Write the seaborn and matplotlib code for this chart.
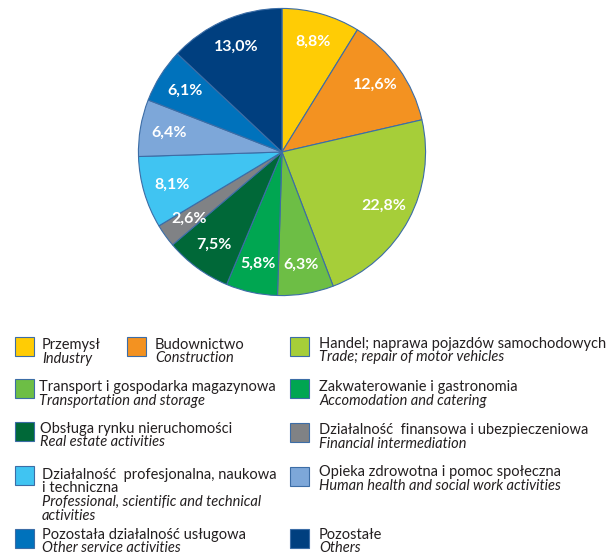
import matplotlib
matplotlib.use("Agg")
import matplotlib.pyplot as plt
from matplotlib.patches import Rectangle
import seaborn as sns

sns.set_style("white")
plt.rcParams['font.family'] = ['Lato', 'DejaVu Sans']

# ---- data ----
categories_pl = [
    "Przemysł",
    "Budownictwo",
    "Handel; naprawa pojazdów samochodowych",
    "Transport i gospodarka magazynowa",
    "Zakwaterowanie i gastronomia",
    "Obsługa rynku nieruchomości",
    "Działalność  finansowa i ubezpieczeniowa",
    "Działalność  profesjonalna, naukowa\ni techniczna",
    "Opieka zdrowotna i pomoc społeczna",
    "Pozostała działalność usługowa",
    "Pozostałe",
]
categories_en = [
    "Industry",
    "Construction",
    "Trade; repair of motor vehicles",
    "Transportation and storage",
    "Accomodation and catering",
    "Real estate activities",
    "Financial intermediation",
    "Professional, scientific and technical\nactivities",
    "Human health and social work activities",
    "Other service activities",
    "Others",
]
values = [8.8, 12.6, 22.8, 6.3, 5.8, 7.5, 2.6, 8.1, 6.4, 6.1, 13.0]
colors = sns.color_palette([
    "#FFCC05", "#F39221", "#A6CE39", "#6DBE45", "#00A651", "#006838",
    "#808285", "#40C4F2", "#7DA7D9", "#0072BC", "#003F7F",
])

W, H = 609, 555
fig = plt.figure(figsize=(W / 100, H / 100), dpi=100)

# ---- pie ----
cx, cy, r = 282, 152, 145
ax = fig.add_axes([(cx - r) / W, (H - cy - r) / H, 2 * r / W, 2 * r / H])
wedges, texts, autotexts = ax.pie(
    values, colors=colors, startangle=90, counterclock=False,
    autopct=lambda p: f"{p:.1f}%".replace(".", ","), pctdistance=0.8,
    wedgeprops=dict(edgecolor="#3C6DA6", linewidth=0.8),
    textprops=dict(color="white", fontsize=11.5, fontweight="bold"),
)
ax.set_xlim(-1.01, 1.01)
ax.set_ylim(-1.01, 1.01)
ax.set_aspect("equal")
ax.axis("off")

# ---- legend (manual layout) ----
lax = fig.add_axes([0, 0, 1, 1])
lax.set_xlim(0, W)
lax.set_ylim(H, 0)
lax.axis("off")

# (swatch x, swatch top y, text x, first line center y)
layout = [
    (15, 337, 42, 345),
    (127, 337, 155, 345),
    (290, 337, 319, 344),
    (15, 379, 39, 387),
    (290, 379, 319, 387),
    (15, 422, 40, 429),
    (290, 423, 319, 430),
    (15, 466, 42, 475),
    (290, 467, 319, 472),
    (15, 529, 42, 535),
    (290, 529, 319, 535),
]
lh = 13.5
fs = 10.5
for i, (sx, sy, tx, ty) in enumerate(layout):
    lax.add_patch(Rectangle((sx, sy), 19, 19, facecolor=colors[i],
                            edgecolor="#3C6DA6", linewidth=0.8))
    pl_lines = categories_pl[i].split("\n")
    en_lines = categories_en[i].split("\n")
    y = ty
    for line in pl_lines:
        lax.text(tx, y, line, fontsize=fs, color="#231F20", va="center", ha="left")
        y += lh
    for line in en_lines:
        lax.text(tx, y, line, fontsize=fs, color="#231F20", va="center", ha="left",
                 style="italic")
        y += lh

fig.savefig("out.png", dpi=100)
